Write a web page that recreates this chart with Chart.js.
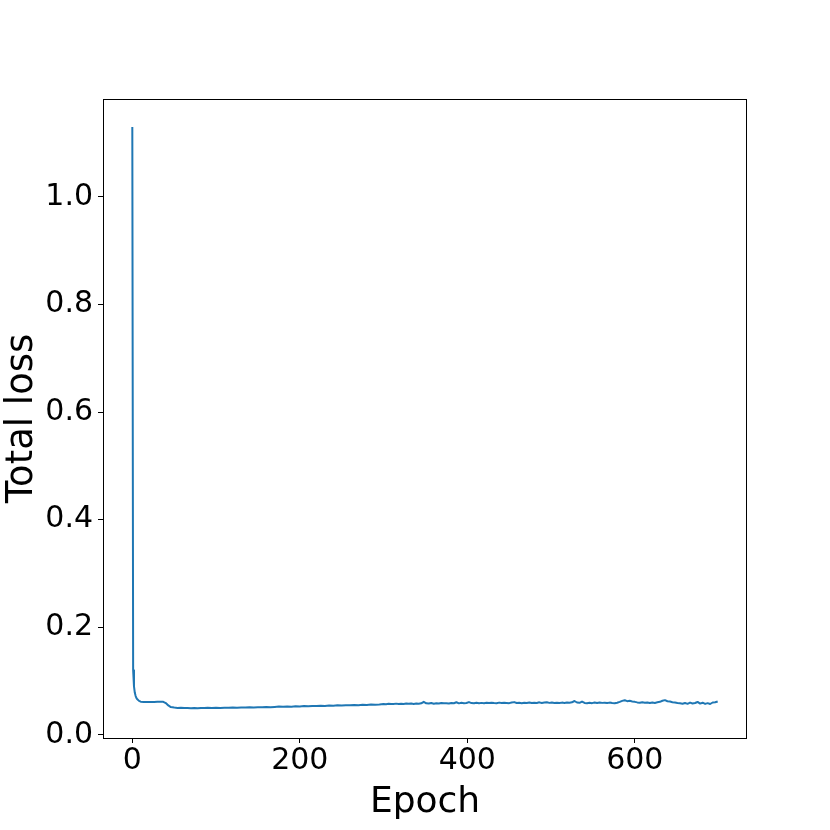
<!DOCTYPE html>
<html>
<head>
<meta charset="utf-8">
<script src="https://cdn.jsdelivr.net/npm/chart.js@4/dist/chart.umd.min.js"></script>
<style>
  html, body { margin: 0; padding: 0; background: #fff; }
  #wrap { width: 830px; height: 830px; }
</style>
</head>
<body>
<div id="wrap"><canvas id="lossChart" width="830" height="830"></canvas></div>
<script>
// Épocas e valores
const epochs = [
  0, 1, 2, 3, 4, 5, 6, 8, 10, 14, 18, 22, 26, 30, 34, 37, 40, 43, 46, 50,
  54, 58, 62, 66, 70, 74, 78, 82, 86, 90, 95, 100, 105, 110, 115, 120, 125, 130, 135, 140,
  145, 150, 155, 160, 165, 170, 175, 180, 185, 190, 195, 200, 205, 210, 215, 220, 225, 230, 235, 240,
  245, 250, 255, 260, 265, 270, 275, 280, 285, 290, 295,
  300, 303, 306, 309, 312, 315, 318, 321, 324, 327,
  330, 333, 336, 339, 342, 345, 348, 351, 354, 357,
  360, 363, 366, 369, 372, 375, 378, 381, 384, 387,
  390, 393, 396, 399, 402, 405, 408, 411, 414, 417,
  420, 423, 426, 429, 432, 435, 438, 441, 444, 447,
  450, 453, 456, 459, 462, 465, 468, 471, 474, 477,
  480, 483, 486, 489, 492, 495, 498, 501, 504, 507,
  510, 513, 516, 519, 522, 525, 528, 531, 534, 537,
  540, 543, 546, 549, 552, 555, 558, 561, 564, 567,
  570, 573, 576, 579, 582, 585, 588, 591, 594, 597,
  600, 603, 606, 609, 612, 615, 618, 621, 624, 627,
  630, 633, 636, 639, 642, 645, 648, 651, 654, 657,
  660, 663, 666, 669, 672, 675, 678, 681, 684, 687,
  690, 693, 696, 699
];
const totalLoss = [
  1.130, 0.12, 0.090, 0.078, 0.072, 0.068, 0.066, 0.063, 0.0615, 0.0610, 0.0608, 0.0610, 0.0611, 0.0612, 0.0614, 0.0612, 0.0590, 0.0545, 0.0515, 0.0505,
  0.0500, 0.0503, 0.0497, 0.0500, 0.0495, 0.0498, 0.0494, 0.0499, 0.0497, 0.0501, 0.0499, 0.0502, 0.0500, 0.0504, 0.0501, 0.0506, 0.0503, 0.0508, 0.0505, 0.0510,
  0.0507, 0.0512, 0.0510, 0.0515, 0.0512, 0.0518, 0.0524, 0.0519, 0.0526, 0.0522, 0.0530, 0.0527, 0.0534, 0.0530, 0.0537, 0.0533, 0.0541, 0.0537, 0.0545, 0.0540,
  0.0548, 0.0543, 0.0551, 0.0547, 0.0555, 0.0550, 0.0558, 0.0553, 0.0561, 0.0556, 0.0563,
  0.0572, 0.0568, 0.0576, 0.0570, 0.0574, 0.0579, 0.0571, 0.0577, 0.0573, 0.0580,
  0.0575, 0.0582, 0.0574, 0.0580, 0.0577, 0.0584, 0.0612, 0.0586, 0.0580, 0.0590,
  0.0578, 0.0587, 0.0581, 0.0591, 0.0584, 0.0588, 0.0582, 0.0592, 0.0586, 0.0605,
  0.0584, 0.0594, 0.0587, 0.0591, 0.0608, 0.0589, 0.0585, 0.0596, 0.0588, 0.0593,
  0.0585, 0.0595, 0.0589, 0.0597, 0.0590, 0.0586, 0.0598, 0.0589, 0.0594, 0.0591,
  0.0588, 0.0600, 0.0607, 0.0590, 0.0596, 0.0588, 0.0597, 0.0591, 0.0600, 0.0589,
  0.0596, 0.0592, 0.0603, 0.0590, 0.0598, 0.0606, 0.0593, 0.0599, 0.0591, 0.0597,
  0.0589, 0.0598, 0.0592, 0.0601, 0.0595, 0.0604, 0.0628, 0.0600, 0.0594, 0.0618,
  0.0592, 0.0586, 0.0596, 0.0588, 0.0599, 0.0590, 0.0601, 0.0593, 0.0597, 0.0589,
  0.0598, 0.0590, 0.0587, 0.0596, 0.0612, 0.0630, 0.0642, 0.0625, 0.0631, 0.0620,
  0.0612, 0.0602, 0.0594, 0.0605, 0.0595, 0.0601, 0.0590, 0.0599, 0.0592, 0.0603,
  0.0612, 0.0632, 0.0644, 0.0624, 0.0618, 0.0606, 0.0598, 0.0590, 0.0584, 0.0578,
  0.0592, 0.0575, 0.0598, 0.0582, 0.0590, 0.0610, 0.0580, 0.0596, 0.0574, 0.0588,
  0.0572, 0.0600, 0.0605, 0.0620
];
const xTicks = [0, 200, 400, 600];
const yTicks = [0.0, 0.2, 0.4, 0.6, 0.8, 1.0];

const FONT = "'DejaVu Sans', sans-serif";

// desenha a moldura completa em volta da área do gráfico
const framePlugin = {
  id: 'frame',
  afterDraw(chart) {
    const a = chart.chartArea;
    const ctx = chart.ctx;
    ctx.save();
    ctx.strokeStyle = '#000';
    ctx.lineWidth = 1;
    ctx.strokeRect(a.left + 0.5, a.top + 0.5, a.right - a.left - 1, a.bottom - a.top);
    ctx.restore();
  }
};

const ctx = document.getElementById('lossChart').getContext('2d');
new Chart(ctx, {
  type: 'line',
  data: {
    datasets: [{
      data: epochs.map((e, i) => ({ x: e, y: totalLoss[i] })),
      borderColor: '#1f77b4',
      borderWidth: 2,
      borderJoinStyle: 'round',
      borderCapStyle: 'butt',
      pointRadius: 0,
      tension: 0,
      fill: false
    }]
  },
  options: {
    responsive: false,
    animation: false,
    layout: { padding: { top: 99, right: 83, left: 0, bottom: 0 } },
    plugins: { legend: { display: false }, tooltip: { enabled: false } },
    scales: {
      x: {
        type: 'linear',
        min: -35,
        max: 734,
        afterBuildTicks: axis => { axis.ticks = xTicks.map(v => ({ value: v })); },
        afterFit: axis => { axis.height = 92; },
        grid: { drawOnChartArea: false, tickLength: 5, color: '#000', tickWidth: 1 },
        border: { display: false },
        ticks: { color: '#000', font: { family: FONT, size: 30 }, padding: 0, maxRotation: 0 },
        title: { display: true, text: 'Epoch', color: '#000', font: { family: FONT, size: 36 }, padding: { top: 0, bottom: 6 } }
      },
      y: {
        type: 'linear',
        min: -0.006,
        max: 1.182,
        afterBuildTicks: axis => { axis.ticks = yTicks.map(v => ({ value: v })); },
        afterFit: axis => { axis.width = 103; },
        grid: { drawOnChartArea: false, tickLength: 5, color: '#000', tickWidth: 1 },
        border: { display: false },
        ticks: { color: '#000', font: { family: FONT, size: 30 }, padding: 5, callback: v => v.toFixed(1) },
        title: { display: true, text: 'Total loss', color: '#000', font: { family: FONT, size: 37 }, padding: { top: 0, bottom: 0 } }
      }
    }
  },
  plugins: [framePlugin]
});
</script>
</body>
</html>
